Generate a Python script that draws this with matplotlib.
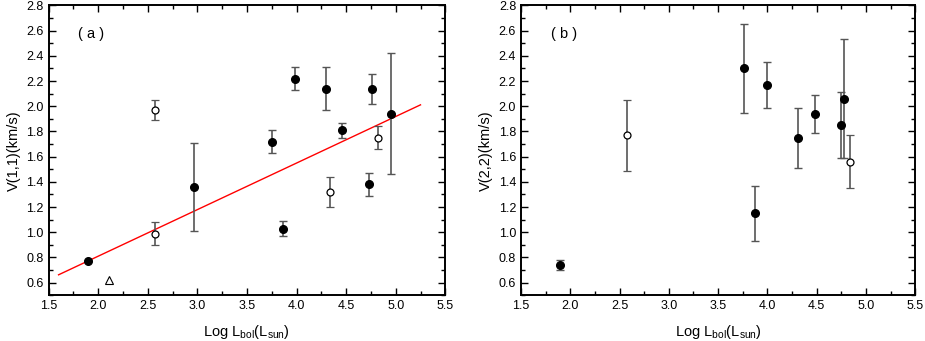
import matplotlib
matplotlib.use("Agg")
import matplotlib.pyplot as plt
from matplotlib.ticker import MultipleLocator

plt.rcParams["font.family"] = ["Liberation Sans", "DejaVu Sans"]
plt.rcParams["mathtext.fontset"] = "custom"
plt.rcParams["mathtext.rm"] = "Liberation Sans"

# --- panel (a): V(1,1) ---
a_fill_x = [1.90, 2.97, 3.75, 3.86, 3.98, 4.30, 4.46, 4.73, 4.76, 4.95]
a_fill_y = [0.77, 1.36, 1.72, 1.03, 2.22, 2.14, 1.81, 1.38, 2.14, 1.94]
a_fill_err = [0.00, 0.35, 0.09, 0.06, 0.09, 0.17, 0.06, 0.09, 0.12, 0.48]

a_open_x = [2.57, 2.57, 4.34, 4.82]
a_open_y = [1.97, 0.99, 1.32, 1.75]
a_open_err = [0.08, 0.09, 0.12, 0.09]

a_tri_x = [2.11]
a_tri_y = [0.62]

fit_x = [1.6, 5.25]
fit_slope = 0.3695
fit_icpt = 0.0715

# --- panel (b): V(2,2) ---
b_fill_x = [1.90, 3.76, 3.87, 4.00, 4.31, 4.48, 4.75, 4.78]
b_fill_y = [0.74, 2.30, 1.15, 2.17, 1.75, 1.94, 1.85, 2.06]
b_fill_err = [0.04, 0.35, 0.22, 0.18, 0.24, 0.15, 0.26, 0.47]

b_open_x = [2.58, 4.84]
b_open_y = [1.77, 1.56]
b_open_err = [0.28, 0.21]

err_kw = dict(ecolor="#555555", elinewidth=1.2, capsize=3, capthick=1.0,
              linestyle="none")

fig = plt.figure(figsize=(9.25, 3.41), dpi=100)
ax1 = fig.add_axes([0.0526, 0.134, 0.4288, 0.850])
ax2 = fig.add_axes([0.5632, 0.134, 0.4263, 0.850])

# panel a
ax1.errorbar(a_fill_x, a_fill_y, yerr=a_fill_err, fmt="o",
             mfc="black", mec="black", ms=5.5, zorder=3, **err_kw)
ax1.errorbar(a_open_x, a_open_y, yerr=a_open_err, fmt="o",
             mfc="white", mec="black", mew=0.9, ms=5, zorder=3, **err_kw)
ax1.plot(a_tri_x, a_tri_y, "^", mfc="white", mec="black", mew=0.8, ms=5.5,
         linestyle="none")
fit_y = [fit_slope * x + fit_icpt for x in fit_x]
ax1.plot(fit_x, fit_y, color="red", linewidth=1.0, zorder=2)
ax1.set_ylabel("V(1,1)(km/s)", fontsize=10.5)
ax1.text(0.075, 0.90, "( a )", transform=ax1.transAxes, fontsize=10.5,
         va="center")

# panel b
ax2.errorbar(b_fill_x, b_fill_y, yerr=b_fill_err, fmt="o",
             mfc="black", mec="black", ms=5.5, zorder=3, **err_kw)
ax2.errorbar(b_open_x, b_open_y, yerr=b_open_err, fmt="o",
             mfc="white", mec="black", mew=0.9, ms=5, zorder=3, **err_kw)
ax2.set_ylabel("V(2,2)(km/s)", fontsize=10.5)
ax2.text(0.075, 0.90, "( b )", transform=ax2.transAxes, fontsize=10.5,
         va="center")

for ax in (ax1, ax2):
    ax.set_xlim(1.5, 5.5)
    ax.set_ylim(0.5, 2.8)
    ax.xaxis.set_major_locator(MultipleLocator(0.5))
    ax.xaxis.set_minor_locator(MultipleLocator(0.25))
    ax.yaxis.set_minor_locator(MultipleLocator(0.1))
    ax.set_yticks([0.6, 0.8, 1.0, 1.2, 1.4, 1.6, 1.8, 2.0, 2.2, 2.4, 2.6, 2.8])
    ax.xaxis.set_major_formatter(plt.FuncFormatter(lambda v, p: f"{v:.1f}"))
    ax.yaxis.set_major_formatter(plt.FuncFormatter(lambda v, p: f"{v:.1f}"))
    ax.tick_params(which="both", direction="in", top=True, right=True,
                   labelsize=9, width=1.0)
    ax.tick_params(which="major", length=5)
    ax.tick_params(which="minor", length=3)
    ax.set_xlabel(r"Log L$_{\rm bol}$(L$_{\rm sun}$)", fontsize=10.5,
                  labelpad=8)
    for s in ax.spines.values():
        s.set_linewidth(1.4)

fig.savefig("out.png", dpi=100)
